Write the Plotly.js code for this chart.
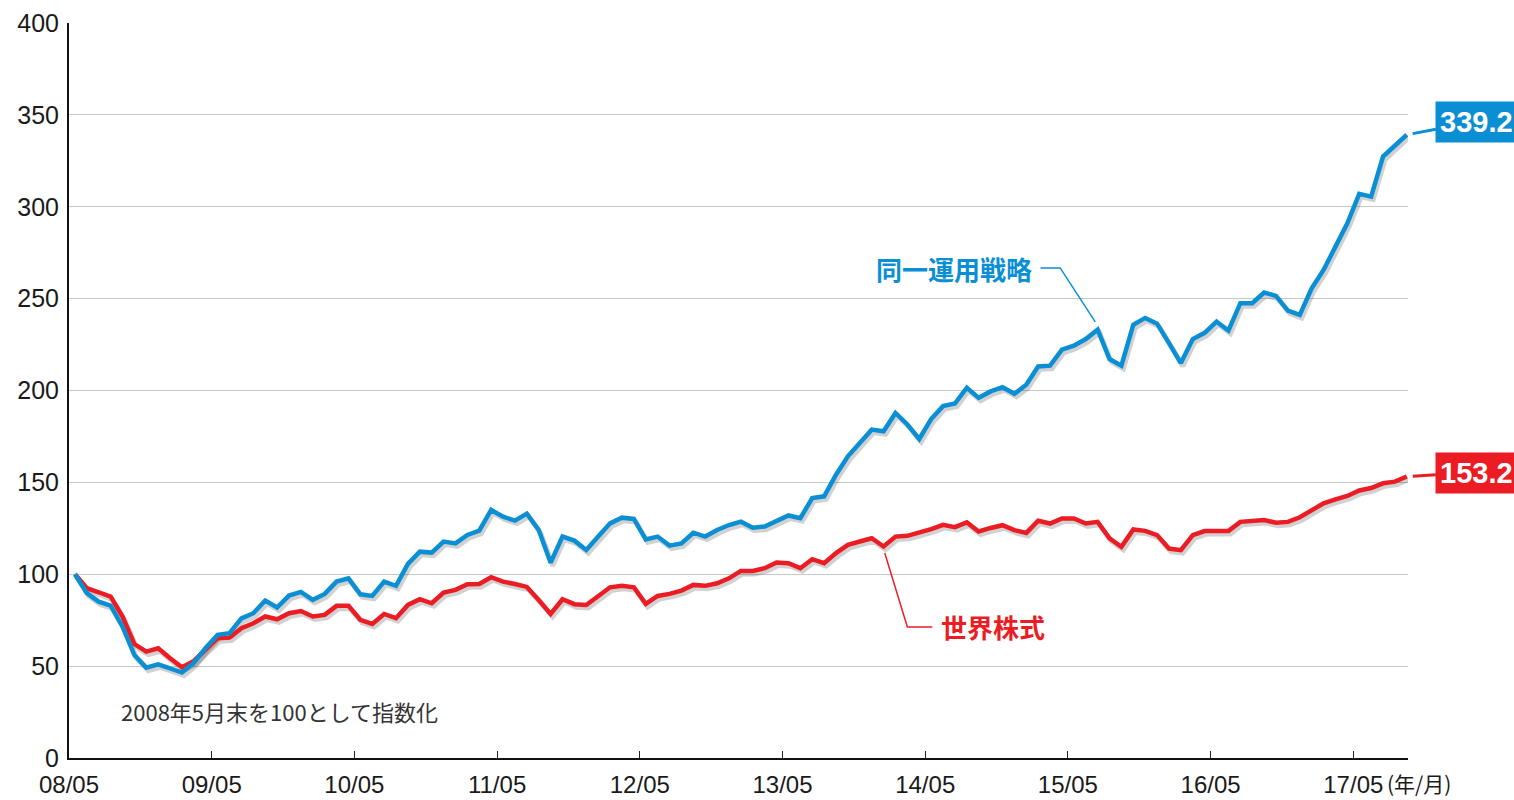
<!DOCTYPE html>
<html>
<head>
<meta charset="utf-8">
<script src="https://cdn.plot.ly/plotly-3.0.1.min.js"></script>
<style>html,body{margin:0;padding:0;background:#fff;}#chart{width:1514px;height:800px;}</style>
</head>
<body>
<div id="chart"></div>
<script>
// Monthly index values, end of May 2008 = 100 (2008/05 .. 2017/09)
const strategyValues = [
  100, 89.7, 85.1, 82.9, 71.5, 56, 49.2, 51, 48.8, 46.5, 51.9, 60,
  67, 67.9, 76, 78.8, 85.7, 81.9, 88.4, 90.4, 86.1, 89.3, 96, 97.8,
  89.1, 88.2, 96, 93.7, 105.6, 112.3, 111.8, 117.8, 116.8, 121.4, 123.7, 135,
  131.3, 129.2, 133, 124.1, 106.3, 120.5, 118.3, 113.2, 120.5, 127.7, 130.8, 130.1,
  119, 120.5, 115.6, 116.8, 122.6, 120.5, 124.1, 126.8, 128.6, 125.3, 126, 129.1,
  132, 130.5, 141.5, 142.4, 154.2, 164.2, 171.5, 178.7, 177.8, 187.8, 181.5, 173.6,
  184.5, 191.5, 192.9, 201.5, 196, 199.5, 201.8, 198.2, 203.1, 213.1, 213.5, 222.2,
  224.4, 228, 233.1, 217.1, 213.5, 235.8, 239.5, 236.4, 225.8, 214.9, 228, 231.4,
  237.5, 232.6, 247.5, 247.5, 253.3, 251.5, 243.5, 241.1, 255.6, 265.6, 278.3, 291,
  307, 305.5, 327.3, 333.1, 339.2
];
const worldValues = [
  100, 92.4, 90.2, 87.8, 77, 62, 57.9, 59.7, 54.3, 49.4, 52.8, 59.2,
  65.2, 65.5, 70.6, 73.3, 77, 75.5, 78.8, 80, 77, 77.9, 82.8, 82.8,
  75.2, 73, 78.4, 76.1, 83.3, 86.4, 84.2, 90, 91.5, 94.6, 94.7, 98.4,
  96, 94.7, 93.1, 86, 78.4, 86.4, 83.7, 83.3, 88.2, 92.9, 93.7, 92.9,
  83.9, 88.2, 89.3, 91.1, 94.2, 93.7, 95.1, 97.8, 101.8, 101.8, 103.3, 106.4,
  106, 103.3, 108.2, 106, 111.5, 116, 117.8, 119.6, 115.1, 120.5, 120.9, 122.4,
  124.5, 126.9, 125.6, 128.2, 123.3, 125.2, 126.7, 124, 122.5, 129.1, 127.6, 130.4,
  130.4, 127.6, 128.5, 119.5, 114.9, 124.4, 123.6, 121.3, 114, 113.1, 121.3, 123.5,
  123.5, 123.6, 128.5, 129, 129.5, 128, 128.5, 131, 135, 138.6, 140.7, 142.6,
  145.6, 146.9, 149.5, 150.4, 153.2
];
const tickLabels = ['08/05','09/05','10/05','11/05','12/05','13/05','14/05','15/05','16/05','17/05'];
const seriesNames = ['同一運用戦略', '世界株式'];
const noteText = '2008年5月末を100として指数化';
const unitText = '(年/月)';

const BLUE = '#0a8fd5';
const RED = '#ec1c24';

const monthIdx = strategyValues.map((_, i) => i);
const tickVals = tickLabels.map((_, k) => k * 12 - 0.5);

const XR = [-0.5, 112.1];
const YR = [0, 400];
// shadow offset (in axis units) ~2px right, ~3px down
const dx = 2 / 11.89, dy = 3 / 1.8375;

const shadow = (vals) => ({
  x: monthIdx, y: vals, type: 'scatter', mode: 'lines',
  xaxis: 'x2', yaxis: 'y2', hoverinfo: 'skip', showlegend: false,
  line: {color: 'rgba(0,0,0,0.18)', width: 5, shape: 'linear'}
});

const data = [
  shadow(worldValues), shadow(strategyValues),
  {x: monthIdx, y: worldValues, name: seriesNames[1], type: 'scatter', mode: 'lines',
   xaxis: 'x3', yaxis: 'y3', line: {color: RED, width: 4.5}},
  {x: monthIdx, y: strategyValues, name: seriesNames[0], type: 'scatter', mode: 'lines',
   xaxis: 'x3', yaxis: 'y3', line: {color: BLUE, width: 4.5}}
];

const last = monthIdx.length - 1;
const xTickFont = {family: 'Liberation Sans, Arial, sans-serif', size: 24, color: '#1a1a1a'};
const yTickFont = {family: 'Liberation Sans, Arial, sans-serif', size: 25, color: '#1a1a1a'};

const layout = {
  width: 1514, height: 800,
  margin: {l: 69, r: 106, t: 23, b: 42},
  paper_bgcolor: '#fff', plot_bgcolor: '#fff',
  showlegend: false,
  xaxis: {range: XR, tickvals: tickVals, ticktext: tickLabels, ticks: 'inside', ticklen: 7,
          tickcolor: '#222', tickwidth: 1, showline: true, linecolor: '#111', linewidth: 2,
          showgrid: false, zeroline: false, tickfont: xTickFont, ticklabelstandoff: 4},
  yaxis: {range: YR, dtick: 50, tick0: 0, showgrid: true, gridcolor: '#c8c8c8', gridwidth: 1,
          showline: true, linecolor: '#111', linewidth: 2, ticks: '', zeroline: false,
          tickfont: yTickFont, ticklabelstandoff: 3},
  xaxis2: {range: [XR[0] - dx, XR[1] - dx], overlaying: 'x', visible: false, fixedrange: true},
  yaxis2: {range: [YR[0] + dy, YR[1] + dy], overlaying: 'y', visible: false, fixedrange: true},
  xaxis3: {range: XR, overlaying: 'x', visible: false},
  yaxis3: {range: YR, overlaying: 'y', visible: false},
  shapes: [
    {type: 'path', xref: 'x', yref: 'y', path: 'M 81.2,266.7 L 82.85,266.7 L 85.8,237.3',
     line: {color: BLUE, width: 1.5}},
    {type: 'path', xref: 'x', yref: 'y', path: 'M 68.1,111.6 L 70.0,71.3 L 72.1,71.3',
     line: {color: RED, width: 1.5}}
  ],
  annotations: [
    {xref: 'x', yref: 'y', x: 73.9, y: 266.2, text: '<b>' + seriesNames[0] + '</b>', showarrow: false,
     font: {family: 'Noto Sans CJK JP', size: 26, color: BLUE}},
    {xref: 'x', yref: 'y', x: 77.2, y: 71.6, text: '<b>' + seriesNames[1] + '</b>', showarrow: false,
     font: {family: 'Noto Sans CJK JP', size: 26, color: RED}},
    {xref: 'x', yref: 'y', x: 3.7, y: 25.6, xanchor: 'left', text: noteText, showarrow: false,
     font: {family: 'Noto Sans CJK JP', size: 22, color: '#333'}},
    {xref: 'x', yref: 'paper', x: 110.2, y: 0, yshift: -25, xanchor: 'left', yanchor: 'middle',
     text: unitText, showarrow: false,
     font: {family: 'Noto Sans CJK JP', size: 21, color: '#1a1a1a'}},
    {xref: 'x', yref: 'y', x: last, y: strategyValues[last], text: '<b>' + strategyValues[last].toFixed(1) + '</b>',
     showarrow: true, ax: 70, ay: -13, arrowhead: 0, arrowwidth: 3, arrowcolor: BLUE, standoff: 6,
     bgcolor: BLUE, borderpad: 4, font: {family: 'Liberation Sans, Arial, sans-serif', size: 29, color: '#fff'}},
    {xref: 'x', yref: 'y', x: last, y: worldValues[last], text: '<b>' + worldValues[last].toFixed(1) + '</b>',
     showarrow: true, ax: 70, ay: -4, arrowhead: 0, arrowwidth: 3, arrowcolor: RED, standoff: 6,
     bgcolor: RED, borderpad: 4, font: {family: 'Liberation Sans, Arial, sans-serif', size: 29, color: '#fff'}}
  ]
};

Plotly.newPlot('chart', data, layout, {displayModeBar: false, staticPlot: true});
</script>
</body>
</html>
